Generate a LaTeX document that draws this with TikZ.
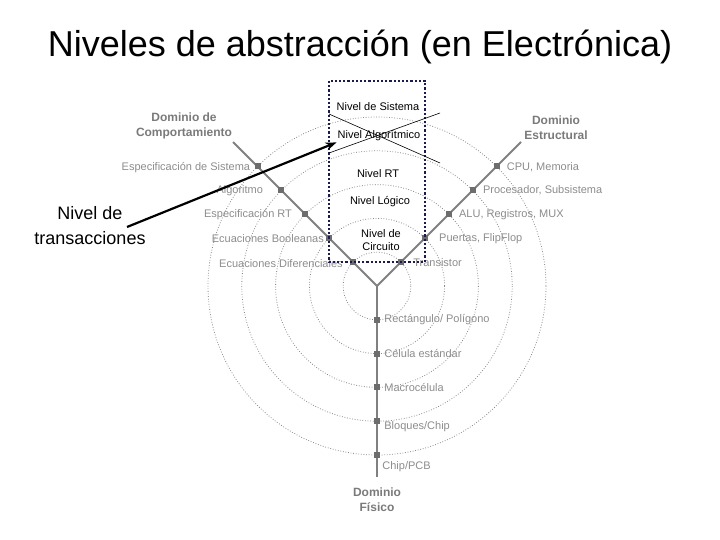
\documentclass[tikz,border=0pt]{standalone}
\usepackage{fontspec}
\setmainfont{Liberation Sans}
\usetikzlibrary{positioning,arrows.meta,calc}
\definecolor{axgray}{HTML}{808080}
\definecolor{ptgray}{HTML}{6D6D6D}
\definecolor{lblgray}{HTML}{8C8C8C}
\definecolor{domgray}{HTML}{7A7A7A}
\definecolor{ringgray}{HTML}{8A8A8A}
\definecolor{boxblue}{HTML}{1A1A50}

\begin{document}
\begin{tikzpicture}[
  x=1pt, y=-1pt,
  font=\fontsize{11}{13}\selectfont,
  punto/.style={fill=ptgray, inner sep=0pt, minimum size=6pt},
  etiqueta/.style={text=lblgray, inner sep=1pt},
  dominio/.style={text=domgray, align=center,
    font=\bfseries\fontsize{12}{15}\selectfont},
  nivel/.style={inner sep=1pt, align=center},
  eje/.style={draw=axgray, line width=1.8pt},
  anillo/.style={draw=ringgray, line width=0.8pt, dash pattern=on 0.8pt off 1.8pt},
  marco/.style={draw=boxblue, line width=1.6pt, dash pattern=on 2.2pt off 2pt},
  cruz/.style={draw=black, line width=0.6pt},
  flecha/.style={-{Stealth[length=11pt,width=8pt]}, line width=2.2pt},
]
\useasboundingbox (0,0) rectangle (720,540);

% Title.
\node[font=\fontsize{36}{40}\selectfont] (titulo) at (360,47)
  {Niveles de abstracción (en Electrónica)};

% Centre of the Y chart and the concentric rings.
\coordinate (centro) at (377,286);
\foreach \k in {1,...,5}
  \draw[anillo] (centro) circle ({33.8*\k});

% The three arms of the Y.
\coordinate (finB) at (233,142);
\coordinate (finE) at (521,142);
\coordinate (finF) at (377,477);
\draw[eje] (finB) -- (centro) -- (finE);
\draw[eje] (centro) -- (finF);

% Points on each arm.
\foreach \k in {1,...,5} {
  \node[punto] (b\k) at ($(centro)+(225:{33.8*\k})$) {};
  \node[punto] (s\k) at ($(centro)+(315:{33.8*\k})$) {};
  \node[punto] (p\k) at ($(centro)+(90:{33.8*\k})$) {};
}

% Behavioural domain labels.
\node[etiqueta, left=3pt of b5, yshift=-1pt] (lb5) {Especificación de Sistema};
\node[etiqueta, left=14pt of b4] (lb4) {Algoritmo};
\node[etiqueta, left=9pt of b3] (lb3) {Especificación RT};
\node[etiqueta, left=1pt of b2] (lb2) {Ecuaciones Booleanas};
\node[etiqueta, left=6pt of b1, yshift=-1pt] (lb1) {Ecuaciones Diferenciales};

% Structural domain labels.
\node[etiqueta, right=6pt of s5, yshift=-1pt] (ls5) {CPU, Memoria};
\node[etiqueta, right=6pt of s4] (ls4) {Procesador, Subsistema};
\node[etiqueta, right=6pt of s3] (ls3) {ALU, Registros, MUX};
\node[etiqueta, right=10pt of s2] (ls2) {Puertas, FlipFlop};
\node[etiqueta, right=8pt of s1] (ls1) {Transistor};

% Physical domain labels.
\node[etiqueta, right=3pt of p1] (lp1) {Rectángulo/ Polígono};
\node[etiqueta, right=3pt of p2] (lp2) {Célula estándar};
\node[etiqueta, right=3pt of p3] (lp3) {Macrocélula};
\node[etiqueta, right=3pt of p4, yshift=-5pt] (lp4) {Bloques/Chip};
\node[etiqueta, below right=2pt and 1pt of p5] (lp5) {Chip/PCB};

% Domain names at the arm ends.
\node[dominio] (dcomp) at (184,126) {Dominio de\\Comportamiento};
\node[dominio] (destr) at (556,128) {Dominio\\Estructural};
\node[dominio] (dfis) at (377,500) {Dominio\\Físico};

% Dotted frame with the abstraction levels.
\draw[marco] (329,81) rectangle (425,262);
\node[nivel] (nsis) at (378,107) {Nivel de Sistema};
\node[nivel] (nalg) at (379,136) {Nivel Algorítmico};
\node[nivel] (nrt) at (378,174) {Nivel RT};
\node[nivel] (nlog) at (380,202) {Nivel Lógico};
\node[nivel] (ncir) at (381,240) {Nivel de\\Circuito};

% Crossed lines over the algorithmic level.
\coordinate (xa1) at (329,114);
\coordinate (xa2) at (440,163);
\coordinate (xb1) at (329,153);
\coordinate (xb2) at (440,113);
\draw[cruz] (xa1) -- (xa2);
\draw[cruz] (xb1) -- (xb2);

% Transaction level pointer.
\node[font=\fontsize{18}{25}\selectfont, align=center] (trans) at (90,226)
  {Nivel de\\transacciones};
\coordinate (inicio) at (127,227);
\draw[flecha] (inicio) -- (nalg.south west);

\end{tikzpicture}
\end{document}
